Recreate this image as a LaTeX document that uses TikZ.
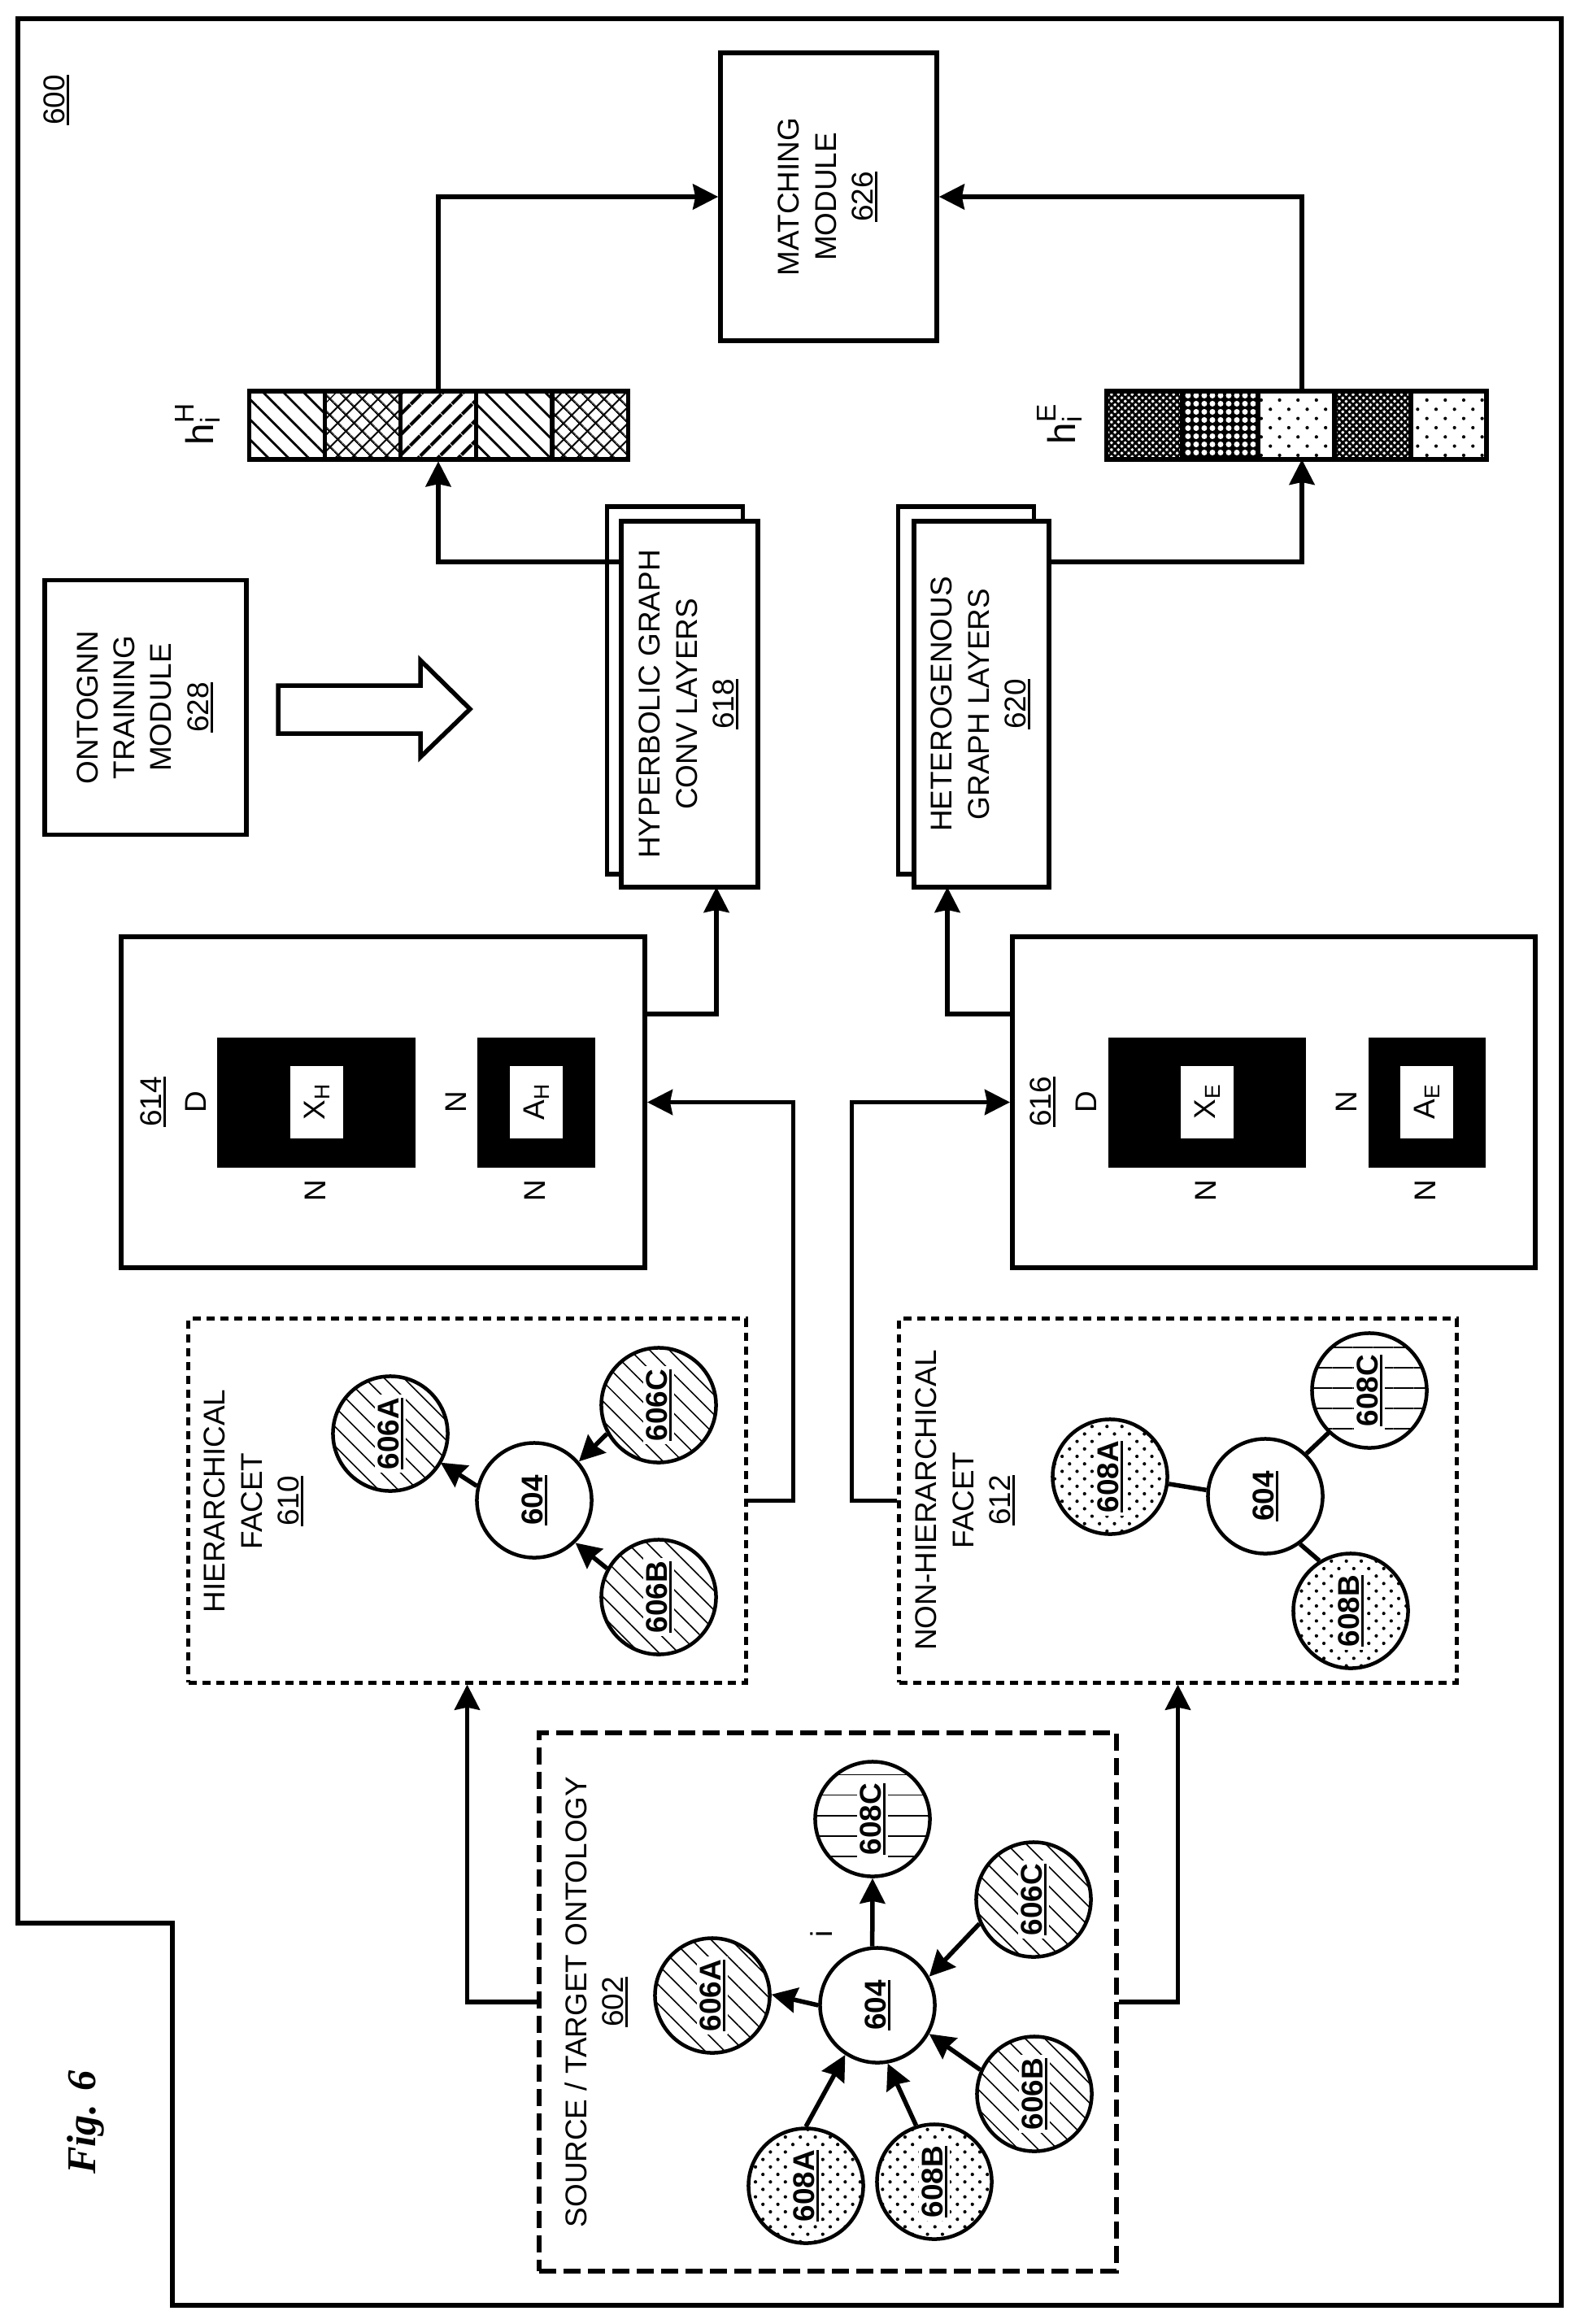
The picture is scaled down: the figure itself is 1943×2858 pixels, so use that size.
\documentclass[tikz,border=0pt]{standalone}
\usepackage{fontspec}
\usepackage{graphicx}
\setmainfont{Liberation Sans}
\newfontfamily\figfont{Liberation Serif}
\usetikzlibrary{arrows.meta,patterns.meta}
\newcommand{\refnum}[1]{\setbox0\hbox{#1}\rlap{\rule[-1.6pt]{\wd0}{0.9pt}}\box0}
\newcommand{\vtext}[1]{\rotatebox{90}{\begin{tabular}{@{}c@{}}#1\end{tabular}}}
\newcommand{\circref}[1]{\rotatebox{90}{\fboxsep=1pt\colorbox{white}{\refnum{\bfseries #1}}}}
\newcommand{\subscr}[2]{#1\raisebox{-1.6pt}{\fontsize{7.5pt}{9pt}\selectfont #2}}
\newcommand{\hlabel}[1]{\fontsize{13.5pt}{15pt}\selectfont h\rlap{\raisebox{-2.3pt}{\fontsize{9.5pt}{11pt}\selectfont i}}\raisebox{6.8pt}{\fontsize{9.5pt}{11pt}\selectfont #1}}
\tikzset{
	every node/.style={font=\fontsize{10.5pt}{12.9pt}\selectfont},
	conn/.style={line width=0.055cm,-{Stealth[length=0.31cm,width=0.31cm,inset=0.03cm]}},
	plainconn/.style={line width=0.055cm},
	modulebox/.style={draw,fill=white,line width=0.055cm,inner sep=0pt},
	srcbox/.style={draw,line width=0.055cm,dash pattern=on 0.21cm off 0.09cm,inner sep=0pt,minimum width=7.10cm,minimum height=6.62cm},
	facetbox/.style={draw,line width=0.05cm,dash pattern=on 0.10cm off 0.07cm,inner sep=0pt,minimum width=6.85cm,minimum height=4.47cm},
	vlabel/.style={rotate=90,inner sep=0pt},
	ent/.style={draw,circle,line width=0.045cm,inner sep=0pt,minimum size=1.41cm},
	hatchent/.style={ent,pattern={Lines[angle=-45,distance=0.17cm,line width=0.45pt]}},
	dotent/.style={ent,pattern={Dots[angle=45,distance=0.13cm,radius=0.6pt]}},
	lineent/.style={ent,pattern={Lines[angle=0,distance=0.25cm,line width=0.5pt]}},
	blackmat/.style={draw,fill=black,inner sep=0pt,minimum height=1.58cm},
	whitecell/.style={fill=white,inner sep=0pt,minimum height=0.89cm},
	barcell/.style={draw,line width=0.055cm,inner sep=0pt,minimum width=0.934cm,minimum height=0.84cm},
	cellLines/.style={barcell,pattern={Lines[angle=-45,distance=0.175cm,line width=0.8pt]}},
	cellHatch/.style={barcell,pattern={Hatch[angle=45,distance=0.14cm,line width=0.6pt]}},
	cellBands/.style={barcell,pattern={Lines[angle=45,distance=0.18cm,line width=1.3pt]}},
	cellPlaid/.style={barcell,pattern={Hatch[angle=45,distance=0.06cm,line width=0.8pt]}},
	cellSpots/.style={barcell,preaction={fill=black},pattern={Dots[distance=0.10cm,radius=1pt]},pattern color=white},
	cellSparse/.style={barcell,pattern={Dots[angle=45,distance=0.16cm,radius=0.6pt]}},
}
\begin{document}
\begin{tikzpicture}[x=0.01cm,y=-0.01cm]
	\useasboundingbox (0,0) rectangle (1943,2858);
	\draw[line width=0.06cm] (22,23) -- (1920,23) -- (1920,2835) -- (212,2835) -- (212,2365) -- (22,2365) -- cycle;
	\node[vlabel] (lab600) at (69,123) {\refnum{600}};
	\node[vlabel] (figlab) at (105,2610) {\figfont\fontsize{14.3pt}{16pt}\selectfont\bfseries\itshape Fig. 6};
	% top row
	\node[modulebox,minimum width=2.66cm,minimum height=3.54cm] (match) at (1019,242) {\vtext{MATCHING\\MODULE\\\refnum{626}}};
	\node[modulebox,minimum width=2.48cm,minimum height=3.13cm] (train) at (179,870) {\vtext{ONTOGNN\\TRAINING\\MODULE\\\refnum{628}}};
	\draw[modulebox] (342,843) -- (517,843) -- (517,812) -- (578,872) -- (517,931) -- (517,902) -- (342,902) -- cycle;
	% embeddings
	\node[cellLines] (hH1) at (353,523) {};
	\node[cellHatch] (hH2) at (446,523) {};
	\node[cellBands] (hH3) at (539,523) {};
	\node[cellLines] (hH4) at (632,523) {};
	\node[cellHatch] (hH5) at (726,523) {};
	\node[cellPlaid] (hE1) at (1407,523) {};
	\node[cellSpots] (hE2) at (1500,523) {};
	\node[cellSparse] (hE3) at (1594,523) {};
	\node[cellPlaid] (hE4) at (1688,523) {};
	\node[cellSparse] (hE5) at (1781,523) {};
	\node[vlabel] (labH) at (243,522) {\hlabel{H}};
	\node[vlabel] (labE) at (1303,522) {\hlabel{E}};
	\coordinate (hEout) at (1601,481);
	\coordinate (hEin) at (1601,565);
	% graph layers
	\node[modulebox,minimum width=1.67cm,minimum height=4.52cm] (hgcback) at (830,849) {};
	\node[modulebox,minimum width=1.68cm,minimum height=4.50cm] (hgc) at (848,866) {\vtext{HYPERBOLIC GRAPH\\CONV LAYERS\\\refnum{618}}};
	\node[modulebox,minimum width=1.67cm,minimum height=4.52cm] (hetback) at (1188,849) {};
	\node[modulebox,minimum width=1.66cm,minimum height=4.50cm] (het) at (1207,866) {\vtext{HETEROGENOUS\\GRAPH LAYERS\\\refnum{620}}};
	\coordinate (hgcOut) at (764,691);
	\coordinate (hetOut) at (1290,691);
	\coordinate (hgcIn) at (881,1091);
	\coordinate (hetIn) at (1165,1091);
	% matrices
	\node[modulebox,minimum width=6.44cm,minimum height=4.07cm] (mh) at (471,1355.5) {};
	\node[blackmat,minimum width=2.42cm] (xh) at (389,1356) {};
	\node[whitecell,minimum width=0.65cm] (xhin) at (389.5,1355.5) {\rotatebox{90}{\subscr{X}{H}}};
	\node[blackmat,minimum width=1.43cm] (ah) at (659.5,1356) {};
	\node[whitecell,minimum width=0.65cm] (ahin) at (659.5,1355.5) {\rotatebox{90}{\subscr{A}{H}}};
	\node[vlabel] (lab614) at (188,1355) {\refnum{614}};
	\node[vlabel] (dh) at (241,1355) {D};
	\node[vlabel] (nh1) at (388,1464) {N};
	\node[vlabel] (nh2) at (561,1355) {N};
	\node[vlabel] (nh3) at (658,1464) {N};
	\node[modulebox,minimum width=6.43cm,minimum height=4.07cm] (me) at (1566.5,1355.5) {};
	\node[blackmat,minimum width=2.41cm] (xe) at (1484.5,1356) {};
	\node[whitecell,minimum width=0.65cm] (xein) at (1484.5,1355.5) {\rotatebox{90}{\subscr{X}{E}}};
	\node[blackmat,minimum width=1.42cm] (ae) at (1755,1356) {};
	\node[whitecell,minimum width=0.65cm] (aein) at (1754.5,1355.5) {\rotatebox{90}{\subscr{A}{E}}};
	\node[vlabel] (lab616) at (1282,1355) {\refnum{616}};
	\node[vlabel] (de) at (1336,1355) {D};
	\node[vlabel] (ne1) at (1483,1464) {N};
	\node[vlabel] (ne2) at (1656,1355) {N};
	\node[vlabel] (ne3) at (1753,1464) {N};
	\coordinate (mhOut) at (793,1247);
	\coordinate (meOut) at (1245,1247);
	% hierarchical facet
	\node[facetbox] (hier) at (574.5,1845.5) {};
	\node[inner sep=0pt] (hierlab) at (313,1846) {\vtext{HIERARCHICAL\\FACET\\\refnum{610}}};
	\node[ent] (hc) at (657,1845) {\circref{604}};
	\node[hatchent] (hA) at (480,1763) {\circref{606A}};
	\node[hatchent] (hC) at (810,1728) {\circref{606C}};
	\node[hatchent] (hB) at (810,1964) {\circref{606B}};
	\draw[conn] (hc.166) -- (hA.330);
	\draw[conn] (hC.209) -- (hc.41);
	\draw[conn] (hB.151) -- (hc.314);
	% non-hierarchical facet
	\node[facetbox] (nonhier) at (1448.5,1845.5) {};
	\node[inner sep=0pt] (nonhierlab) at (1188,1845) {\vtext{NON-HIERARCHICAL\\FACET\\\refnum{612}}};
	\node[ent] (nc) at (1556,1840) {\circref{604}};
	\node[dotent] (nA) at (1365,1816) {\circref{608A}};
	\node[lineent] (nC) at (1684,1710) {\circref{608C}};
	\node[dotent] (nB) at (1661,1981) {\circref{608B}};
	\draw[plainconn] (nc.174) -- (nA.353);
	\draw[plainconn] (nc.46) -- (nC.226);
	\draw[plainconn] (nc.306) -- (nB.122);
	% source / target ontology
	\node[srcbox] (src) at (1018,2462) {};
	\node[inner sep=0pt] (srclab) at (735,2462) {\vtext{SOURCE / TARGET ONTOLOGY\\\refnum{602}}};
	\node[ent] (sc) at (1079,2466) {\circref{604}};
	\node[hatchent] (sA) at (876,2454) {\circref{606A}};
	\node[hatchent] (sC) at (1271,2336) {\circref{606C}};
	\node[hatchent] (sB) at (1272,2575) {\circref{606B}};
	\node[dotent] (oA) at (991,2688) {\circref{608A}};
	\node[dotent] (oB) at (1149,2683) {\circref{608B}};
	\node[lineent] (oC) at (1073,2237) {\circref{608C}};
	\node[vlabel] (ilab) at (1010,2378) {i};
	\draw[conn] (sc.180) -- (sA.1);
	\draw[conn] (sc.95) -- (oC.270);
	\draw[conn] (sC.204) -- (sc.29);
	\draw[conn] (sB.156) -- (sc.331);
	\draw[conn] (oA.90) -- (sc.237);
	\draw[conn] (oB.108) -- (sc.280);
	% connectors
	\draw[conn] (src.west) -| (hier.south);
	\draw[conn] (src.east) -| (nonhier.south);
	\draw[conn] (hier.east) -- ++(56,0) |- (mh.east);
	\draw[conn] (nonhier.west) -- ++(-56,0) |- (me.west);
	\draw[conn] (mhOut) -| (hgcIn);
	\draw[conn] (meOut) -| (hetIn);
	\draw[conn] (hgcOut) -| (hH3.south);
	\draw[conn] (hetOut) -| (hEin);
	\draw[conn] (hH3.north) |- (match.west);
	\draw[conn] (hEout) |- (match.east);
\end{tikzpicture}
\end{document}
